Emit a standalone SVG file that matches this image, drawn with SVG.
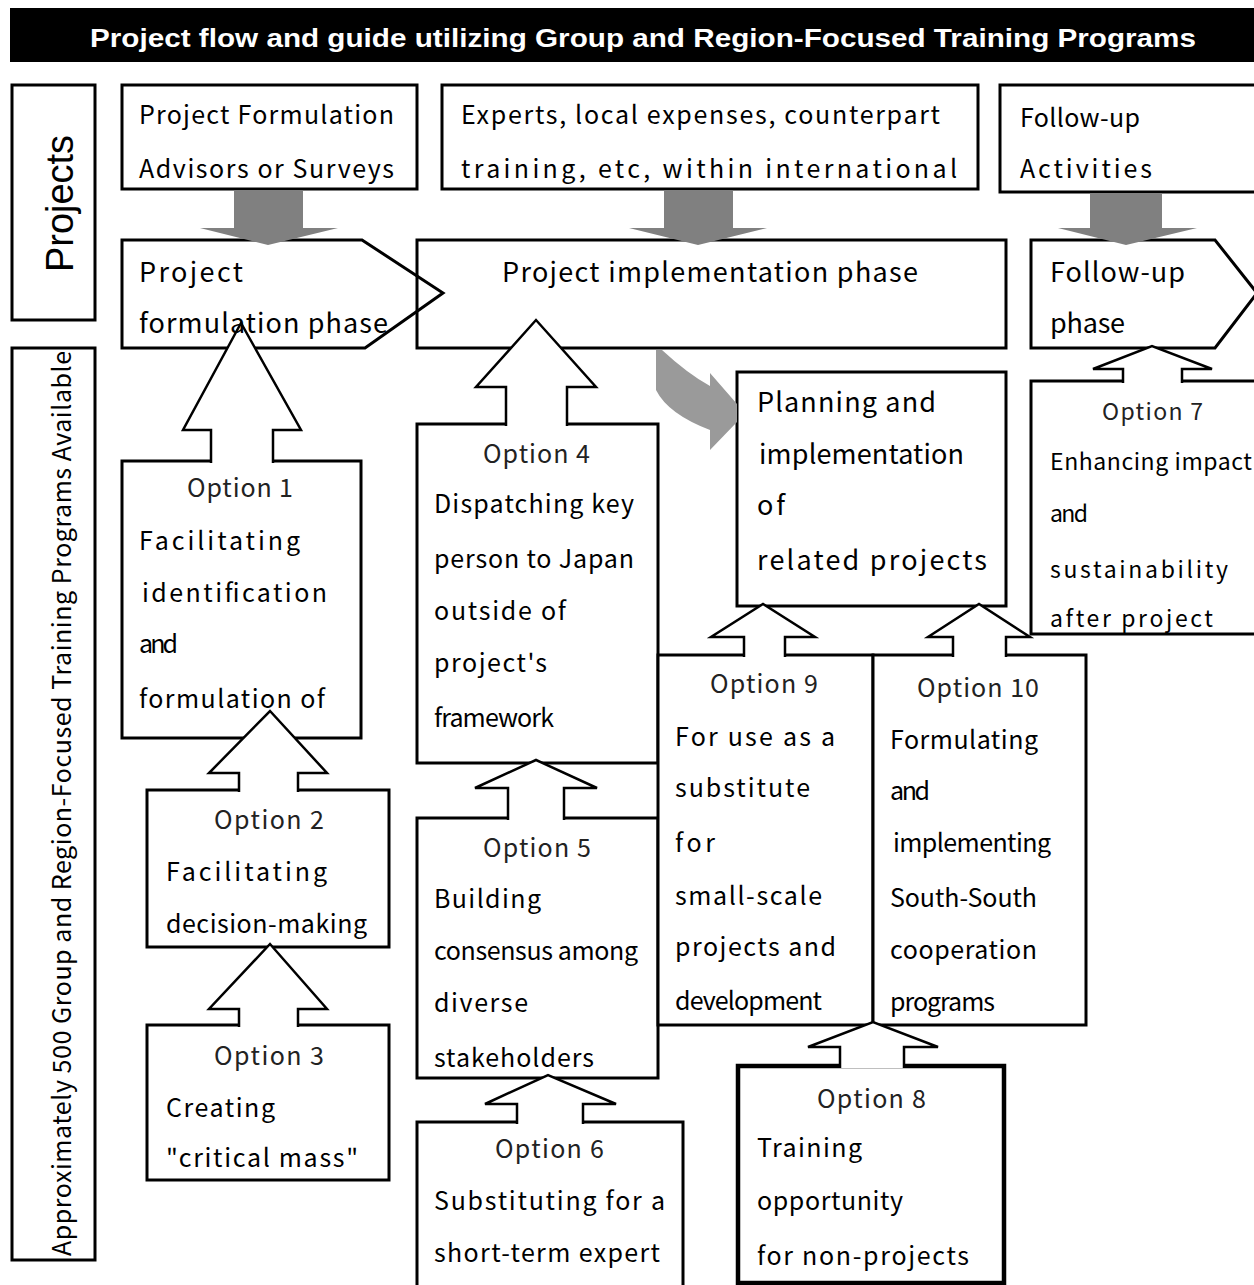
<svg xmlns="http://www.w3.org/2000/svg" width="1254" height="1285" viewBox="0 0 1254 1285">
<style>
.bx{fill:#fff;stroke:#000;stroke-width:3}
.bn{fill:none;stroke:#000;stroke-width:3}
.ar{fill:#fff;stroke:#000;stroke-width:2.5;stroke-linejoin:miter}
.ao{fill:none;stroke:#000;stroke-width:2.5}
.af{fill:#fff;stroke:none}
.ga{fill:#808080}
.gc{fill:#9a9a9a}
.t{font-family:"Noto Sans CJK JP","Liberation Sans",sans-serif;font-size:25px;fill:#000}
.h{fill:#222}
.b{font-size:27px}
.s{font-size:23px}
</style>
<rect width="1254" height="1285" fill="#fff"/>
<g id="title">
<rect x="10" y="8" width="1250" height="54" fill="#000"/>
<text x="90" y="47" font-family="'Liberation Sans',Arial,sans-serif" font-weight="bold" font-size="26" fill="#fff" textLength="1106" lengthAdjust="spacingAndGlyphs">Project flow and guide utilizing Group and Region-Focused Training Programs</text>
</g>
<g id="projects-label">
<rect class="bx" x="12" y="85" width="83" height="235"/>
<text transform="translate(73,272) rotate(-90)" font-family="'Liberation Sans',Arial,sans-serif" font-size="38" fill="#000" textLength="137">Projects</text>
</g>
<g id="programs-label">
<rect class="bx" x="12" y="348" width="83" height="912"/>
<text class="t" transform="translate(71,1256) rotate(-90)" font-size="22" fill="#333" textLength="905">Approximately 500 Group and Region-Focused Training Programs Available</text>
</g>
<g id="formulation-advisors">
<rect class="bx" x="122" y="85" width="295" height="104"/>
<text class="t" x="139" y="124" textLength="255">Project Formulation</text>
<text class="t" x="139" y="178" textLength="255">Advisors or Surveys</text>
</g>
<g id="experts">
<rect class="bx" x="442" y="85" width="536" height="104"/>
<text class="t" x="461" y="124" textLength="479">Experts, local expenses, counterpart</text>
<text class="t" x="461" y="178" textLength="496">training, etc, within international</text>
</g>
<g id="followup-activities">
<rect class="bx" x="1000" y="85" width="262" height="107"/>
<text class="t" x="1020" y="127" textLength="120">Follow-up</text>
<text class="t" x="1020" y="178" textLength="132">Activities</text>
</g>
<g id="formulation-phase">
<polygon class="bx" points="122,240 362,240 443,293 365,348 122,348"/>
<text class="t b" x="139" y="282" textLength="104">Project</text>
<text class="t b" x="139" y="333" textLength="249">formulation phase</text>
</g>
<g id="implementation-phase">
<rect class="bn" x="417" y="240" width="589" height="108"/>
<text class="t b" x="502" y="282" textLength="416">Project implementation phase</text>
</g>
<g id="followup-phase">
<polygon class="bx" points="1031,240 1215,240 1257,293 1215,348 1031,348"/>
<text class="t b" x="1050" y="282" textLength="135">Follow-up</text>
<text class="t b" x="1050" y="333" textLength="75">phase</text>
</g>
<g id="option1">
<rect class="bx" x="122" y="461" width="239" height="277"/>
<text class="t h" x="187" y="497" textLength="106">Option 1</text>
<text class="t" x="139" y="550" textLength="161">Facilitating</text>
<text class="t" x="142" y="602" textLength="185">identification</text>
<text class="t" x="139" y="653" textLength="39">and</text>
<text class="t" x="139" y="708" textLength="186">formulation of</text>
</g>
<g id="option2">
<rect class="bx" x="147" y="790" width="242" height="157"/>
<text class="t h" x="214" y="829" textLength="110">Option 2</text>
<text class="t" x="166" y="881" textLength="161">Facilitating</text>
<text class="t" x="166" y="933" textLength="201">decision-making</text>
</g>
<g id="option3">
<rect class="bx" x="147" y="1025" width="242" height="155"/>
<text class="t h" x="214" y="1065" textLength="110">Option 3</text>
<text class="t" x="166" y="1117" textLength="109">Creating</text>
<text class="t" x="166" y="1167" textLength="192">"critical mass"</text>
</g>
<g id="option4">
<rect class="bx" x="417" y="424" width="241" height="339"/>
<text class="t h" x="483" y="463" textLength="107">Option 4</text>
<text class="t" x="434" y="513" textLength="200">Dispatching key</text>
<text class="t" x="434" y="568" textLength="200">person to Japan</text>
<text class="t" x="434" y="620" textLength="132">outside of</text>
<text class="t" x="434" y="672" textLength="113">project's</text>
<text class="t" x="434" y="727" textLength="120">framework</text>
</g>
<g id="option5">
<rect class="bx" x="417" y="818" width="241" height="260"/>
<text class="t h" x="483" y="857" textLength="108">Option 5</text>
<text class="t" x="434" y="908" textLength="107">Building</text>
<text class="t" x="434" y="960" textLength="204">consensus among</text>
<text class="t" x="434" y="1012" textLength="94">diverse</text>
<text class="t" x="434" y="1067" textLength="160">stakeholders</text>
</g>
<g id="option6">
<rect class="bx" x="417" y="1122" width="266" height="170"/>
<text class="t h" x="495" y="1158" textLength="109">Option 6</text>
<text class="t" x="434" y="1210" textLength="231">Substituting for a</text>
<text class="t" x="434" y="1262" textLength="226">short-term expert</text>
</g>
<g id="planning">
<rect class="bx" x="737" y="372" width="269" height="234"/>
<text class="t b" x="757" y="412" textLength="179">Planning and</text>
<text class="t b" x="759" y="464" textLength="205">implementation</text>
<text class="t b" x="757" y="515" textLength="28">of</text>
<text class="t b" x="757" y="570" textLength="230">related projects</text>
</g>
<g id="option7">
<rect class="bx" x="1031" y="381" width="231" height="253"/>
<text class="t s h" x="1102" y="420" textLength="101">Option 7</text>
<text class="t s" x="1050" y="470" textLength="202">Enhancing impact</text>
<text class="t s" x="1050" y="522" textLength="38">and</text>
<text class="t s" x="1050" y="578" textLength="178">sustainability</text>
<text class="t s" x="1050" y="627" textLength="163">after project</text>
</g>
<g id="option9">
<rect class="bx" x="658" y="655" width="215" height="370"/>
<text class="t h" x="710" y="693" textLength="108">Option 9</text>
<text class="t" x="675" y="746" textLength="160">For use as a</text>
<text class="t" x="675" y="797" textLength="135">substitute</text>
<text class="t" x="675" y="852" textLength="40">for</text>
<text class="t" x="675" y="905" textLength="147">small-scale</text>
<text class="t" x="675" y="956" textLength="161">projects and</text>
<text class="t" x="675" y="1010" textLength="147">development</text>
</g>
<g id="option10">
<rect class="bx" x="873" y="655" width="213" height="370"/>
<text class="t h" x="917" y="697" textLength="122">Option 10</text>
<text class="t" x="890" y="749" textLength="148">Formulating</text>
<text class="t" x="890" y="800" textLength="40">and</text>
<text class="t" x="893" y="852" textLength="158">implementing</text>
<text class="t" x="890" y="907" textLength="147">South-South</text>
<text class="t" x="890" y="959" textLength="147">cooperation</text>
<text class="t" x="890" y="1011" textLength="105">programs</text>
</g>
<g id="option8">
<rect x="738" y="1066" width="266" height="217" fill="#fff" stroke="#000" stroke-width="4.5"/>
<text class="t h" x="817" y="1108" textLength="109">Option 8</text>
<text class="t" x="757" y="1157" textLength="105">Training</text>
<text class="t" x="757" y="1210" textLength="146">opportunity</text>
<text class="t" x="757" y="1265" textLength="212">for non-projects</text>
</g>
<g id="connectors">
<polygon class="ga" points="234,190 303,190 303,228 338,228 268,245 200,228 234,228"/>
<polygon class="ga" points="664,190 733,190 733,228 767,228 698,245 629,228 664,228"/>
<polygon class="ga" points="1090,193 1162,193 1162,228 1197,228 1126,245 1058,228 1090,228"/>
<path class="gc" d="M656,350 L662,350 Q688,374 710,386 L710,373 L737,404 L737,422 L710,450 L710,430 Q668,414 656,390 Z"/>
<path class="af" d="M229,344 H253 L301,430 H273 V463 H211 V430 H183 Z"/>
<path class="ao" d="M211,463 V430 H183 L241,323 L301,430 H273 V463"/>
<path class="ar" d="M239,792 V773 H209 L270,711 L327,773 H298 V792"/>
<path class="ar" d="M239,1027 V1009 H209 L270,944 L327,1009 H298 V1027"/>
<path class="ar" d="M506,426 V387 H476 L536,320 L596,387 H567 V426"/>
<path class="ar" d="M508,820 V788 H475 L536,760 L597,788 H564 V820"/>
<path class="ar" d="M517,1124 V1104 H485 L548,1075 L616,1104 H583 V1124"/>
<path class="ar" d="M1123,383 V369 H1093 L1152,346 L1212,369 H1182 V383"/>
<path class="ar" d="M744,657 V637 H711 L763,604 L815,637 H785 V657"/>
<path class="ar" d="M953,657 V637 H928 L979,604 L1030,637 H1006 V657"/>
<path class="ar" stroke-width="4" d="M840,1068 V1047 H808 L873,1022 L938,1047 H904 V1068"/>
</g>
</svg>
